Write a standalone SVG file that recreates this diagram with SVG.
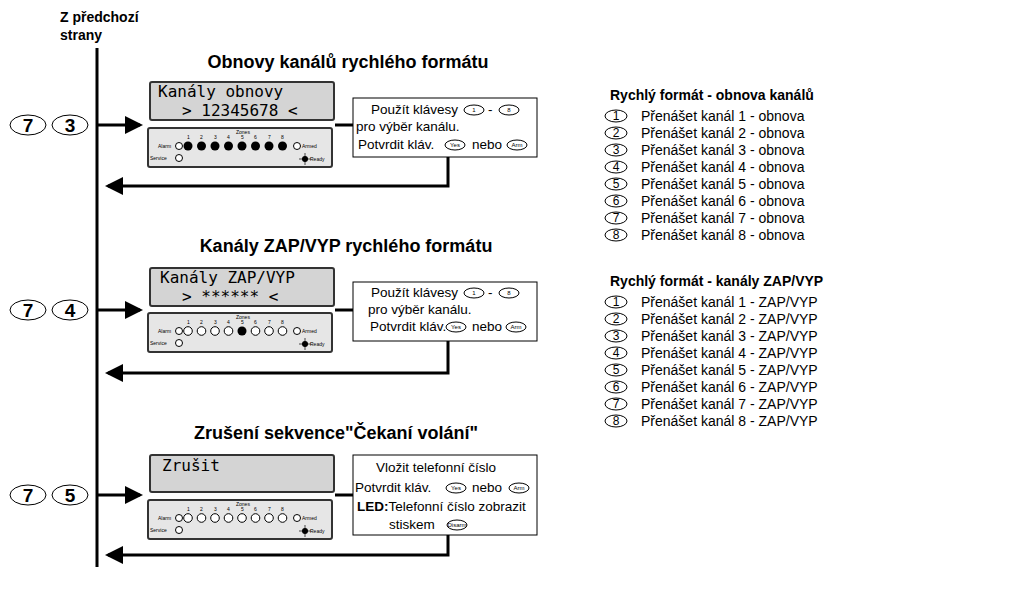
<svg xmlns="http://www.w3.org/2000/svg" width="1012" height="597" viewBox="0 0 1012 597">
<style>
text{font-family:"Liberation Sans",Arial,sans-serif;fill:#000}
.b{font-weight:bold}
.t{font-size:18px;font-weight:bold}
.lcd{fill:#d4d4d4;stroke:#333;stroke-width:2}
.lt{font-family:"DejaVu Sans Mono","Liberation Mono",monospace;font-size:16px}
.pan{fill:#e6e6e6;stroke:#333;stroke-width:2}
.sm{font-size:5px}
.led{fill:#fff;stroke:#000;stroke-width:1}
.on{fill:#000}
.ln{stroke:#000;stroke-width:3;fill:none}
.box{fill:#fff;stroke:#000;stroke-width:1}
.k{fill:#fff;stroke:#000;stroke-width:1}
.ks{font-size:6px}
.bt{font-size:13.5px}
.li{font-size:14px}
.ci{font-size:12px}
</style>
<defs>
<marker id="ar" markerWidth="6" markerHeight="6" refX="5" refY="3" orient="auto" markerUnits="strokeWidth"><path d="M0,0L6,3L0,6z" fill="#000"/></marker>
<g id="panel">
<rect class="pan" x="0" y="0" width="184" height="39" rx="2"/>
<text class="sm" x="10" y="20">Alarm</text><circle class="led" cx="31" cy="18" r="3.5"/>
<text class="sm" x="2" y="32">Service</text><circle class="led" cx="31" cy="30" r="3.5"/>
<text class="sm" x="88" y="6">Zones</text>
<g class="sm"><text x="39" y="11">1</text><text x="52" y="11">2</text><text x="66" y="11">3</text><text x="79" y="11">4</text><text x="93" y="11">5</text><text x="106" y="11">6</text><text x="120" y="11">7</text><text x="133" y="11">8</text></g>
<circle class="led" cx="149" cy="18" r="3.5"/><text class="sm" x="154" y="20">Armed</text>
<circle class="on" cx="157" cy="31" r="3"/><path d="M151,31h12M157,25v12" stroke="#000" stroke-width="0.7"/><text class="sm" x="162" y="33">Ready</text>
</g>
<g id="z"><circle class="led" cx="0" cy="0" r="4.3"/></g>
<g id="zf"><circle class="on" cx="0" cy="0" r="4.5"/></g>
</defs>
<g id="header"><text class="b" x="60" y="22" font-size="14">Z předchozí</text><text class="b" x="60" y="40" font-size="14">strany</text></g>
<g id="connectors">
<line class="ln" x1="97" y1="48" x2="97" y2="567"/>
<line class="ln" x1="97" y1="125" x2="140" y2="125" marker-end="url(#ar)"/>
<line class="ln" x1="335" y1="125" x2="353" y2="125"/>
<polyline class="ln" points="448,157 448,186 108,186" marker-end="url(#ar)"/>
<line class="ln" x1="97" y1="310" x2="140" y2="310" marker-end="url(#ar)"/>
<line class="ln" x1="335" y1="310" x2="353" y2="310"/>
<polyline class="ln" points="448,341 448,373 108,373" marker-end="url(#ar)"/>
<line class="ln" x1="97" y1="495" x2="140" y2="495" marker-end="url(#ar)"/>
<line class="ln" x1="335" y1="495" x2="353" y2="495"/>
<polyline class="ln" points="448,535 448,555 108,555" marker-end="url(#ar)"/>
</g>
<g id="keys1"><ellipse class="k" cx="28" cy="125" rx="18" ry="10" stroke-width="1.5"/><text x="28" y="132" text-anchor="middle" class="b" font-size="19">7</text><ellipse class="k" cx="70" cy="125" rx="18" ry="10" stroke-width="1.5"/><text x="70" y="132" text-anchor="middle" class="b" font-size="19">3</text></g>
<g id="keys2"><ellipse class="k" cx="28" cy="310" rx="18" ry="10" stroke-width="1.5"/><text x="28" y="317" text-anchor="middle" class="b" font-size="19">7</text><ellipse class="k" cx="70" cy="310" rx="18" ry="10" stroke-width="1.5"/><text x="70" y="317" text-anchor="middle" class="b" font-size="19">4</text></g>
<g id="keys3"><ellipse class="k" cx="28" cy="495" rx="18" ry="10" stroke-width="1.5"/><text x="28" y="502" text-anchor="middle" class="b" font-size="19">7</text><ellipse class="k" cx="70" cy="495" rx="18" ry="10" stroke-width="1.5"/><text x="70" y="502" text-anchor="middle" class="b" font-size="19">5</text></g>
<g id="sec1">
<text class="t" x="348" y="68" text-anchor="middle">Obnovy kanálů rychlého formátu</text>
<rect class="lcd" x="150" y="82" width="184" height="38" rx="2"/>
<text class="lt" x="158" y="97">Kanály obnovy</text><text class="lt" x="182" y="116">&gt; 12345678 &lt;</text>
<g transform="translate(148,128)"><use href="#panel"/>
<use href="#zf" x="40" y="18"/><use href="#zf" x="53.5" y="18"/><use href="#zf" x="67" y="18"/><use href="#zf" x="80.5" y="18"/><use href="#zf" x="94" y="18"/><use href="#zf" x="107.5" y="18"/><use href="#zf" x="121" y="18"/><use href="#zf" x="134.5" y="18"/></g>
</g>
<g id="box1">
<rect class="box" x="353" y="98" width="184" height="59"/>
<text class="bt" x="371" y="114">Použít klávesy</text><ellipse class="k" cx="474" cy="110" rx="10" ry="5"/><text class="ks" x="474" y="112" text-anchor="middle">1</text><text class="bt" x="488" y="114">-</text><ellipse class="k" cx="509" cy="110" rx="10" ry="5"/><text class="ks" x="509" y="112" text-anchor="middle">8</text>
<text class="bt" x="356" y="131">pro výběr  kanálu.</text>
<text class="bt" x="358" y="149" font-size="12.5">Potvrdit kláv.</text><ellipse class="k" cx="455" cy="145" rx="10" ry="5"/><text class="ks" x="455" y="147" text-anchor="middle">Yes</text><text class="bt" x="472" y="149">nebo</text><ellipse class="k" cx="517" cy="145" rx="10" ry="5"/><text class="ks" x="517" y="147" text-anchor="middle">Arm</text>
</g>
<g id="sec2">
<text class="t" x="346" y="252" text-anchor="middle">Kanály ZAP/VYP rychlého formátu</text>
<rect class="lcd" x="150" y="268" width="184" height="38" rx="2"/>
<text class="lt" x="160" y="283">Kanály ZAP/VYP</text><text class="lt" x="182" y="302">&gt; ****** &lt;</text>
<g transform="translate(148,313)"><use href="#panel"/>
<use href="#z" x="40" y="18"/><use href="#z" x="53.5" y="18"/><use href="#z" x="67" y="18"/><use href="#z" x="80.5" y="18"/><use href="#zf" x="94" y="18"/><use href="#z" x="107.5" y="18"/><use href="#z" x="121" y="18"/><use href="#z" x="134.5" y="18"/></g>
</g>
<g id="box2">
<rect class="box" x="353" y="282" width="184" height="59"/>
<text class="bt" x="371" y="297">Použít klávesy</text><ellipse class="k" cx="474" cy="293" rx="10" ry="5"/><text class="ks" x="474" y="295" text-anchor="middle">1</text><text class="bt" x="488" y="297">-</text><ellipse class="k" cx="509" cy="293" rx="10" ry="5"/><text class="ks" x="509" y="295" text-anchor="middle">8</text>
<text class="bt" x="368" y="314">pro výběr  kanálu.</text>
<text class="bt" x="370" y="331" font-size="12.5">Potvrdit kláv.</text><ellipse class="k" cx="456" cy="327" rx="10" ry="5"/><text class="ks" x="456" y="329" text-anchor="middle">Yes</text><text class="bt" x="472" y="331">nebo</text><ellipse class="k" cx="516" cy="327" rx="10" ry="5"/><text class="ks" x="516" y="329" text-anchor="middle">Arm</text>
</g>
<g id="sec3">
<text class="t" x="336" y="439" text-anchor="middle">Zrušení sekvence"Čekaní volání"</text>
<rect class="lcd" x="150" y="455" width="184" height="37" rx="2"/>
<text class="lt" x="162" y="471">Zrušit</text>
<g transform="translate(148,500)"><use href="#panel"/>
<use href="#z" x="40" y="18"/><use href="#z" x="53.5" y="18"/><use href="#z" x="67" y="18"/><use href="#z" x="80.5" y="18"/><use href="#z" x="94" y="18"/><use href="#z" x="107.5" y="18"/><use href="#z" x="121" y="18"/><use href="#z" x="134.5" y="18"/></g>
</g>
<g id="box3">
<rect class="box" x="353" y="455" width="184" height="80"/>
<text class="bt" x="376" y="472">Vložit telefonní číslo</text>
<text class="bt" x="355" y="492">Potvrdit kláv.</text><ellipse class="k" cx="456" cy="488" rx="10" ry="5"/><text class="ks" x="456" y="490" text-anchor="middle">Yes</text><text class="bt" x="472" y="492">nebo</text><ellipse class="k" cx="519" cy="488" rx="10" ry="5"/><text class="ks" x="519" y="490" text-anchor="middle">Arm</text>
<text class="bt" x="357" y="511"><tspan class="b">LED:</tspan>Telefonní číslo zobrazit</text>
<text class="bt" x="389" y="529">stiskem</text><ellipse class="k" cx="457" cy="525" rx="10" ry="5"/><text class="ks" x="457" y="527" text-anchor="middle" font-size="5">Disarm</text>
</g>
<g id="list1">
<text class="b" x="610" y="100" font-size="14">Rychlý formát - obnova kanálů</text>
<g class="li">
<ellipse class="k" cx="616" cy="116" rx="11" ry="6"/><text class="ci" x="616" y="120" text-anchor="middle">1</text><text x="641" y="121">Přenášet kanál 1 - obnova</text>
<ellipse class="k" cx="616" cy="133" rx="11" ry="6"/><text class="ci" x="616" y="137" text-anchor="middle">2</text><text x="641" y="138">Přenášet kanál 2 - obnova</text>
<ellipse class="k" cx="616" cy="150" rx="11" ry="6"/><text class="ci" x="616" y="154" text-anchor="middle">3</text><text x="641" y="155">Přenášet kanál 3 - obnova</text>
<ellipse class="k" cx="616" cy="167" rx="11" ry="6"/><text class="ci" x="616" y="171" text-anchor="middle">4</text><text x="641" y="172">Přenášet kanál 4 - obnova</text>
<ellipse class="k" cx="616" cy="184" rx="11" ry="6"/><text class="ci" x="616" y="188" text-anchor="middle">5</text><text x="641" y="189">Přenášet kanál 5 - obnova</text>
<ellipse class="k" cx="616" cy="201" rx="11" ry="6"/><text class="ci" x="616" y="205" text-anchor="middle">6</text><text x="641" y="206">Přenášet kanál 6 - obnova</text>
<ellipse class="k" cx="616" cy="218" rx="11" ry="6"/><text class="ci" x="616" y="222" text-anchor="middle">7</text><text x="641" y="223">Přenášet kanál 7 - obnova</text>
<ellipse class="k" cx="616" cy="235" rx="11" ry="6"/><text class="ci" x="616" y="239" text-anchor="middle">8</text><text x="641" y="240">Přenášet kanál 8 - obnova</text>
</g></g>
<g id="list2">
<text class="b" x="610" y="286" font-size="14">Rychlý formát - kanály ZAP/VYP</text>
<g class="li">
<ellipse class="k" cx="616" cy="302" rx="11" ry="6"/><text class="ci" x="616" y="306" text-anchor="middle">1</text><text x="641" y="307">Přenášet kanál 1  - ZAP/VYP</text>
<ellipse class="k" cx="616" cy="319" rx="11" ry="6"/><text class="ci" x="616" y="323" text-anchor="middle">2</text><text x="641" y="324">Přenášet kanál 2  - ZAP/VYP</text>
<ellipse class="k" cx="616" cy="336" rx="11" ry="6"/><text class="ci" x="616" y="340" text-anchor="middle">3</text><text x="641" y="341">Přenášet kanál 3  - ZAP/VYP</text>
<ellipse class="k" cx="616" cy="353" rx="11" ry="6"/><text class="ci" x="616" y="357" text-anchor="middle">4</text><text x="641" y="358">Přenášet kanál 4  - ZAP/VYP</text>
<ellipse class="k" cx="616" cy="370" rx="11" ry="6"/><text class="ci" x="616" y="374" text-anchor="middle">5</text><text x="641" y="375">Přenášet kanál 5  - ZAP/VYP</text>
<ellipse class="k" cx="616" cy="387" rx="11" ry="6"/><text class="ci" x="616" y="391" text-anchor="middle">6</text><text x="641" y="392">Přenášet kanál 6  - ZAP/VYP</text>
<ellipse class="k" cx="616" cy="404" rx="11" ry="6"/><text class="ci" x="616" y="408" text-anchor="middle">7</text><text x="641" y="409">Přenášet kanál 7  - ZAP/VYP</text>
<ellipse class="k" cx="616" cy="421" rx="11" ry="6"/><text class="ci" x="616" y="425" text-anchor="middle">8</text><text x="641" y="426">Přenášet kanál 8  - ZAP/VYP</text>
</g></g>
</svg>
